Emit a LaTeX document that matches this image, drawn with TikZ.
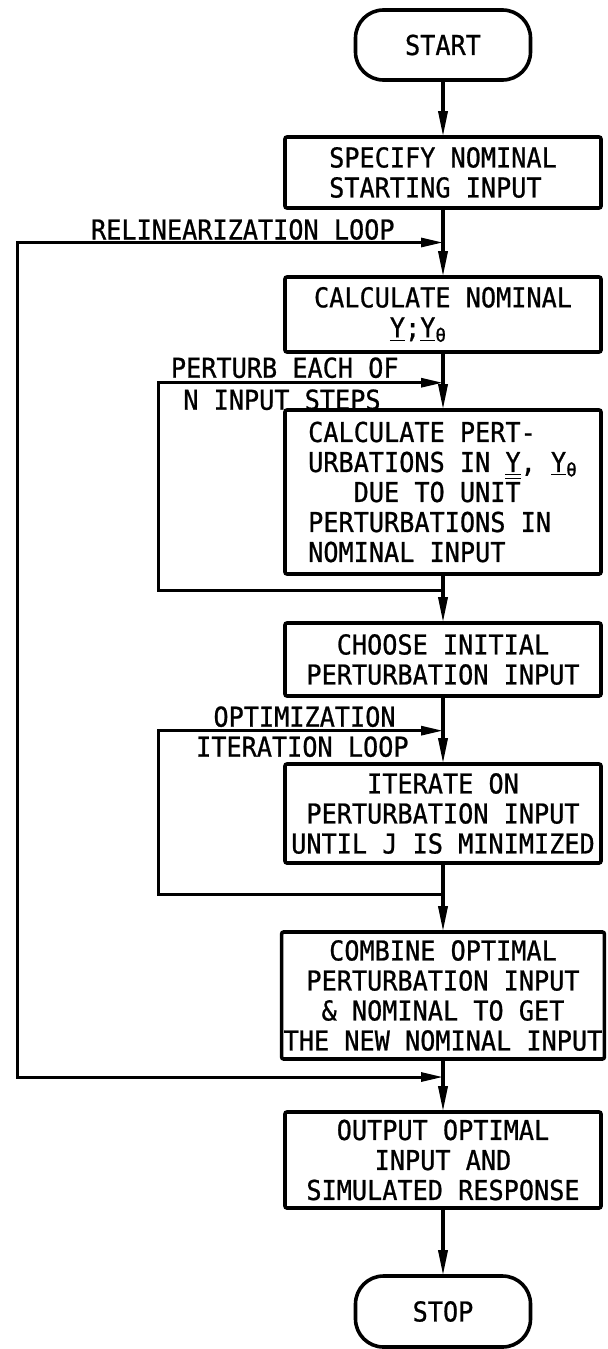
\documentclass[tikz,border=0pt]{standalone}
\usepackage{fontspec}
\setmainfont[FakeStretch=0.92,FakeBold=0.8]{DejaVu Sans Mono}
\usepackage{tikz}
\usetikzlibrary{positioning,arrows.meta,calc}
\newcommand{\flowfont}{\fontsize{13.7}{15}\selectfont}
\tikzset{
  term/.style={rectangle, rounded corners=14pt, draw, line width=1.8pt, outer sep=0pt,
               minimum width=87.5pt, minimum height=35pt, font=\flowfont},
  proc/.style={rectangle, rounded corners=1pt, draw, line width=1.8pt, outer sep=0pt,
               minimum width=158pt, inner sep=2pt, align=center, font=\flowfont},
  flow/.style={-{Triangle[length=13pt,width=4.5pt]}, line width=1.8pt},
  back/.style={-{Triangle[length=11pt,width=4.5pt]}, line width=1.5pt},
  lbl/.style={font=\flowfont, inner sep=0pt},
}

\begin{document}
\begin{tikzpicture}
  \useasboundingbox (0,0) rectangle (304pt,-674.5pt);
  % main sequence down the spine
  \node[term] (start) at (221.5pt,-22.5pt) {START};
  \node[proc, minimum height=35.5pt, align=left, below=28.5pt of start] (spec)
    {SPECIFY NOMINAL\\STARTING INPUT};
  \node[proc, minimum height=37.5pt, align=left, below=34.5pt of spec] (nom)
    {CALCULATE NOMINAL\\\phantom{XXXXX}\underline{Y};\underline{Y}\textsubscript{θ}};
  \node[proc, minimum height=82pt, align=left, below=29pt of nom] (pert)
    {CALCULATE PERT-\\
     URBATIONS IN \underline{\underline{Y}}, \underline{Y}\textsubscript{θ}\\
     \phantom{XXX}DUE TO UNIT\\
     PERTURBATIONS IN\\
     NOMINAL INPUT};
  \node[proc, minimum height=36.5pt, below=24.5pt of pert] (choose)
    {CHOOSE INITIAL\\PERTURBATION INPUT};
  \node[proc, minimum height=49.5pt, below=34pt of choose] (iter)
    {ITERATE ON\\PERTURBATION INPUT\\UNTIL J IS MINIMIZED};
  \node[proc, minimum height=63.5pt, inner xsep=1pt, below=34.5pt of iter] (comb)
    {COMBINE OPTIMAL\\PERTURBATION INPUT\\\& NOMINAL TO GET\\THE NEW NOMINAL INPUT};
  \node[proc, minimum height=48pt, below=26.5pt of comb] (out)
    {OUTPUT OPTIMAL\\INPUT AND\\SIMULATED RESPONSE};
  \node[term, minimum height=35.5pt, below=34pt of out] (stop) {STOP};

  % loop junctions
  \coordinate (rtop) at ($(spec.south)!0.5!(nom.north)$);
  \coordinate (ptop) at ($(nom.south)!0.53!(pert.north)$);
  \coordinate (pbot) at ($(pert.south)!0.33!(choose.north)$);
  \coordinate (otop) at ($(choose.south)!0.51!(iter.north)$);
  \coordinate (obot) at ($(iter.south)!0.46!(comb.north)$);
  \coordinate (rbot) at ($(comb.south)!0.34!(out.north)$);
  \coordinate (outer) at (8.5pt,0);
  \coordinate (inner) at (79pt,0);

  \draw[flow] (start) -- (spec);
  \draw[flow] (spec) -- (nom);
  \draw[flow] (nom) -- (pert);
  \draw[flow] (pert) -- (choose);
  \draw[flow] (choose) -- (iter);
  \draw[flow] (iter) -- (comb);
  \draw[flow] (comb) -- (out);
  \draw[flow] (out) -- (stop);

  % loops
  \draw[back] (pbot) -| (inner |- ptop) -- (ptop);
  \draw[back] (obot) -| (inner |- otop) -- (otop);
  \draw[back, {Triangle[length=11pt,width=4.5pt]}-{Triangle[length=11pt,width=4.5pt]}]
    (rbot) -| (outer |- rtop) -- (rtop);

  \node[lbl, anchor=base east] (rlbl) at ([xshift=-24pt,yshift=1.5pt]rtop) {RELINEARIZATION LOOP};
  \node[lbl, anchor=base east] (plbl) at ([xshift=-22pt,yshift=2.5pt]ptop) {PERTURB EACH OF};
  \node[lbl, anchor=base east] (plbl2) at ([xshift=-31pt,yshift=-13.5pt]ptop) {N INPUT STEPS};
  \node[lbl, anchor=base east] (olbl) at ([xshift=-23.5pt,yshift=2pt]otop) {OPTIMIZATION};
  \node[lbl, anchor=base east] (olbl2) at ([xshift=-17pt,yshift=-13pt]otop) {ITERATION LOOP};
\end{tikzpicture}
\end{document}
